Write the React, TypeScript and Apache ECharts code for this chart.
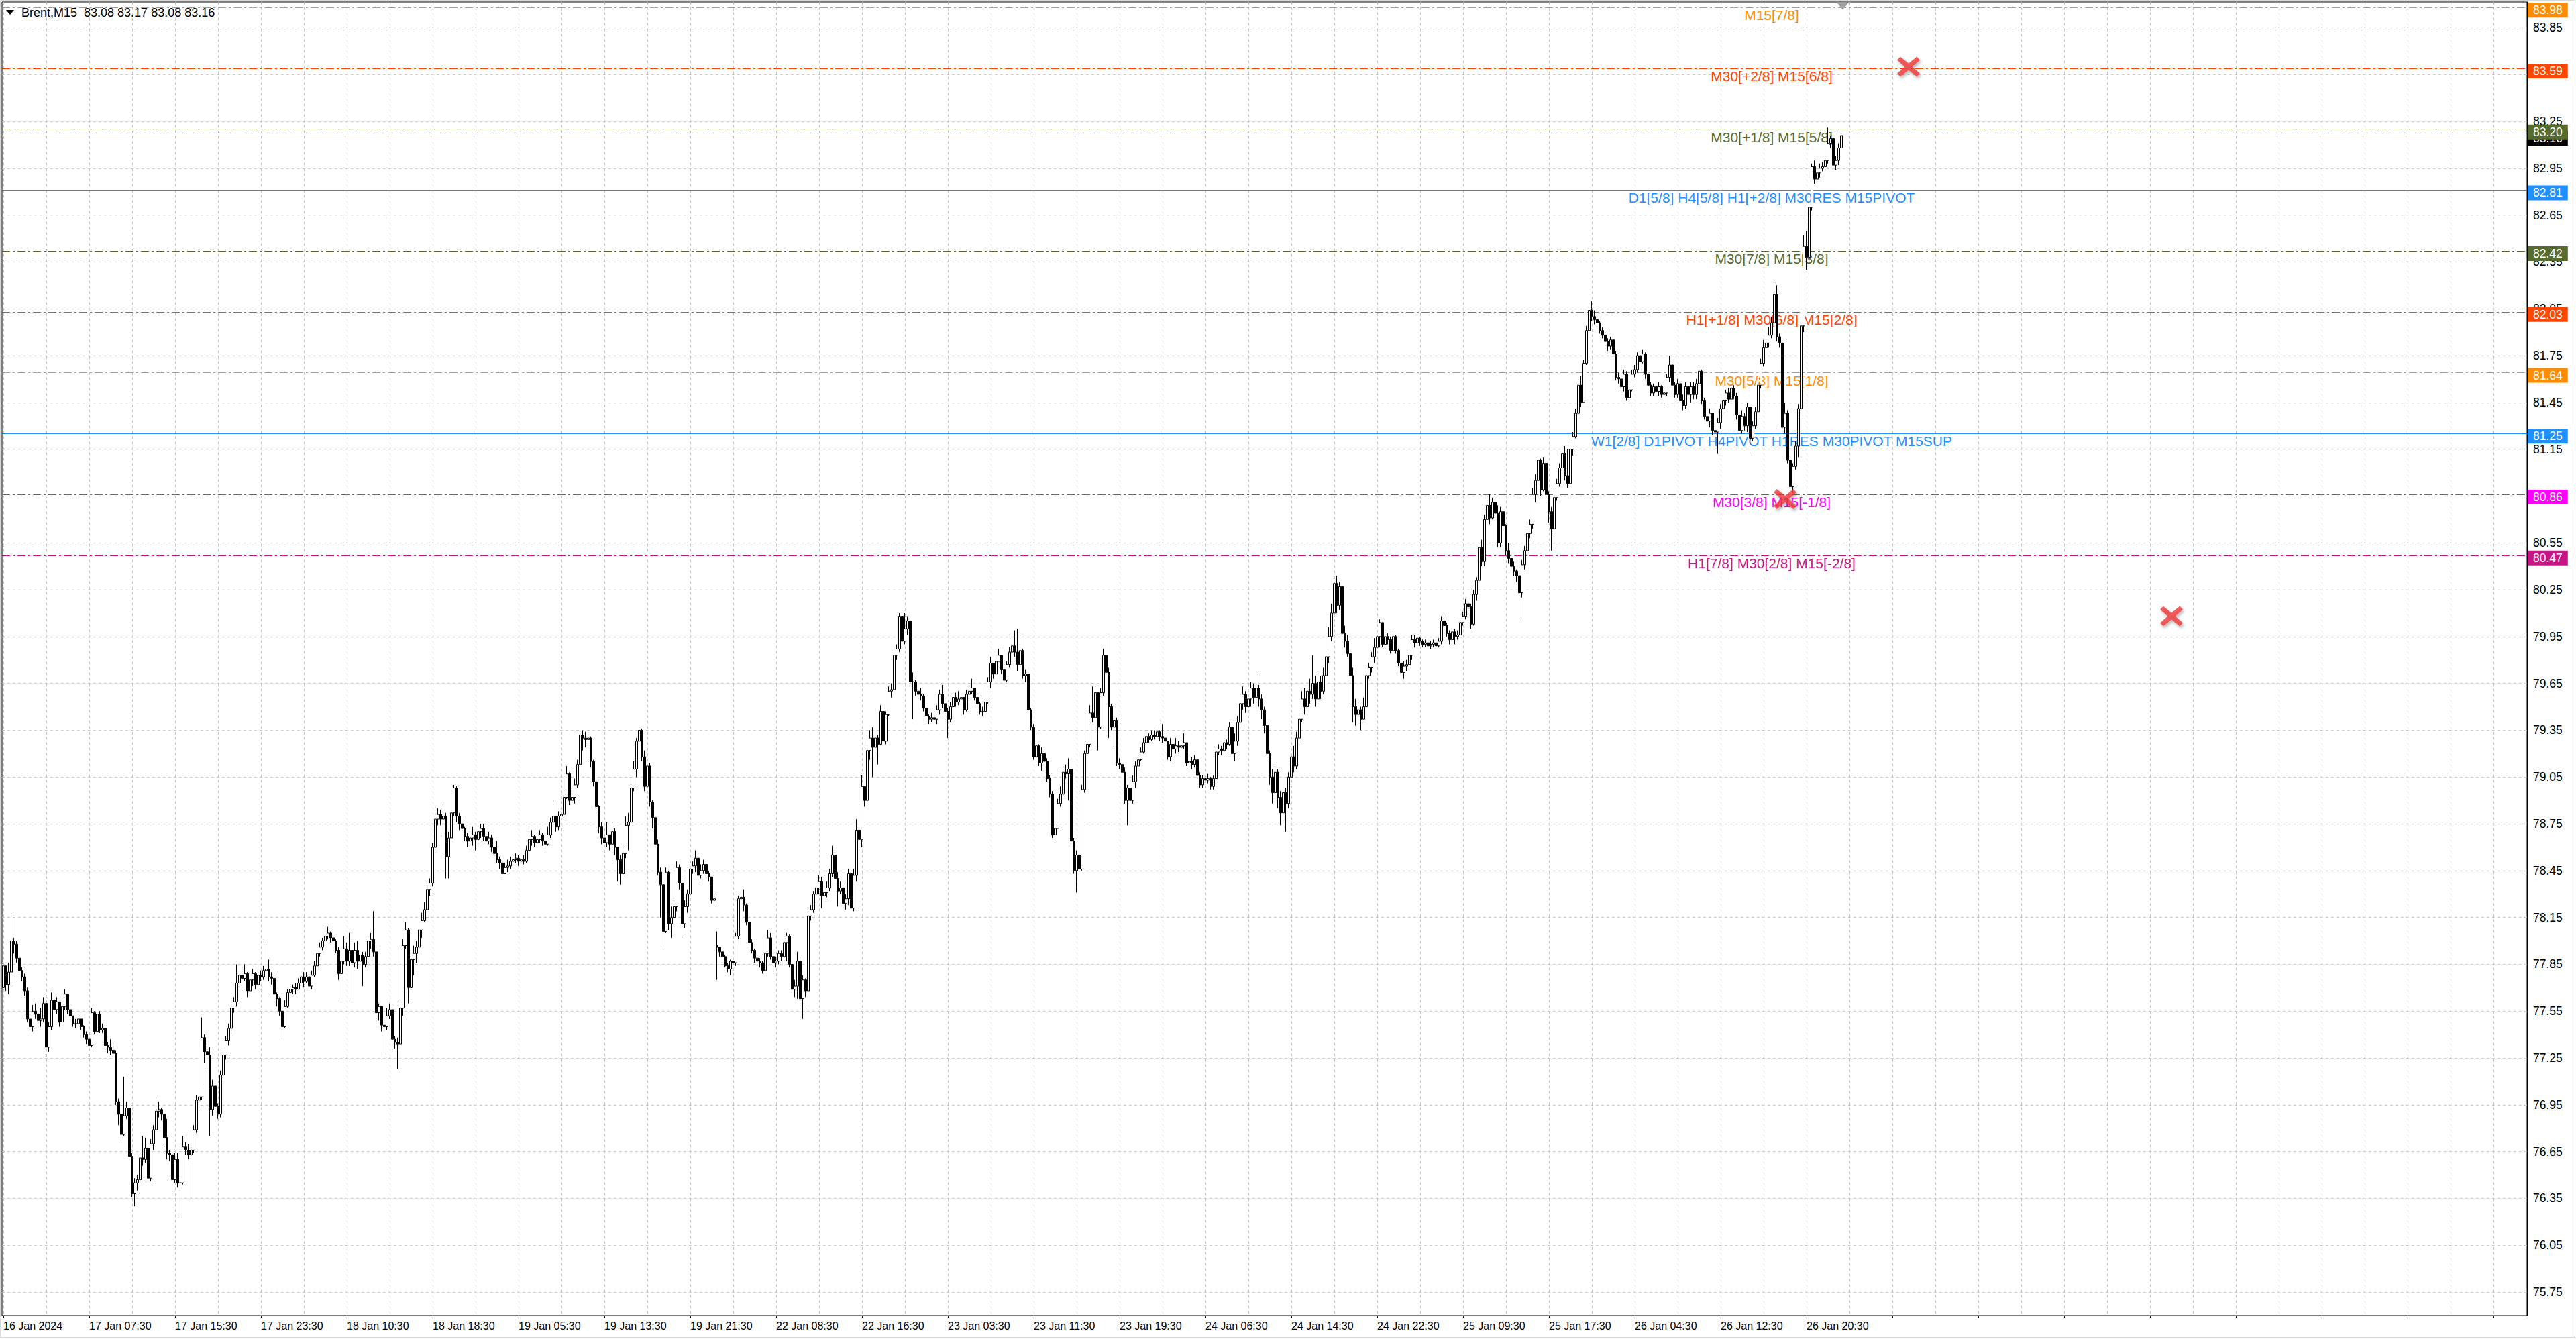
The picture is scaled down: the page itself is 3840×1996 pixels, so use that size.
import React, { useEffect, useRef } from "react";
import * as echarts from "echarts";

// ---------------- DATA ----------------
const symbolName = "Brent,M15";

const xLabels = [
  "16 Jan 2024", "17 Jan 07:30", "17 Jan 15:30", "17 Jan 23:30", "18 Jan 10:30", "18 Jan 18:30",
  "19 Jan 05:30", "19 Jan 13:30", "19 Jan 21:30", "22 Jan 08:30", "22 Jan 16:30", "23 Jan 03:30",
  "23 Jan 11:30", "23 Jan 19:30", "24 Jan 06:30", "24 Jan 14:30", "24 Jan 22:30", "25 Jan 09:30",
  "25 Jan 17:30", "26 Jan 04:30", "26 Jan 12:30", "26 Jan 20:30",
];

const yTicks = [
  75.75, 76.05, 76.35, 76.65, 76.95, 77.25, 77.55, 77.85, 78.15, 78.45, 78.75, 79.05, 79.35, 79.65,
  79.95, 80.25, 80.55, 80.85, 81.15, 81.45, 81.75, 82.05, 82.35, 82.65, 82.95, 83.25, 83.55, 83.85,
];

const firstOpen = 77.7;
const gapOpens = [[266, 77.97]];

const closes = [
  77.84, 77.72, 77.80, 78.00, 77.98, 77.89, 77.81, 77.77, 77.68, 77.50,
  77.45, 77.55, 77.53, 77.49, 77.50, 77.60, 77.32, 77.45, 77.62, 77.56,
  77.61, 77.48, 77.58, 77.66, 77.56, 77.52, 77.47, 77.47, 77.50, 77.45,
  77.40, 77.37, 77.33, 77.54, 77.42, 77.53, 77.43, 77.44, 77.33, 77.32,
  77.30, 77.28, 76.97, 76.89, 76.76, 76.88, 76.93, 76.62, 76.38, 76.45,
  76.47, 76.61, 76.60, 76.67, 76.48, 76.70, 76.79, 76.91, 76.92, 76.89,
  76.74, 76.64, 76.63, 76.47, 76.60, 76.45, 76.45, 76.68, 76.66, 76.63,
  76.66, 76.79, 76.98, 77.00, 77.38, 77.29, 77.27, 76.92, 77.07, 76.94,
  76.89, 77.14, 77.27, 77.36, 77.44, 77.57, 77.61, 77.73, 77.78, 77.76,
  77.79, 77.68, 77.75, 77.79, 77.72, 77.78, 77.77, 77.81, 77.82, 77.77,
  77.76, 77.66, 77.63, 77.55, 77.45, 77.58, 77.67, 77.69, 77.70, 77.69,
  77.73, 77.77, 77.74, 77.77, 77.71, 77.78, 77.84, 77.92, 77.96, 78.00,
  78.03, 78.05, 78.02, 78.00, 77.94, 77.79, 77.87, 77.95, 77.87, 77.94,
  77.86, 77.94, 77.87, 77.91, 77.85, 77.90, 78.00, 78.01, 77.93, 77.54,
  77.58, 77.46, 77.45, 77.52, 77.56, 77.37, 77.35, 77.34, 77.57, 77.97,
  78.07, 77.70, 77.88, 77.92, 77.96, 78.07, 78.13, 78.20, 78.33, 78.37,
  78.60, 78.78, 78.81, 78.78, 78.80, 78.54, 78.66, 78.82, 78.98, 78.80,
  78.75, 78.72, 78.67, 78.64, 78.66, 78.68, 78.65, 78.70, 78.72, 78.67,
  78.64, 78.66, 78.60, 78.56, 78.52, 78.50, 78.43, 78.47, 78.48, 78.51,
  78.52, 78.53, 78.51, 78.52, 78.51, 78.58, 78.65, 78.67, 78.63, 78.65,
  78.68, 78.64, 78.62, 78.68, 78.76, 78.80, 78.73, 78.80, 78.81, 78.92,
  79.07, 78.90, 78.92, 79.00, 79.13, 79.32, 79.30, 79.29, 79.30, 79.15,
  79.02, 78.86, 78.73, 78.66, 78.63, 78.68, 78.62, 78.70, 78.60, 78.52,
  78.43, 78.56, 78.74, 78.76, 78.98, 79.10, 79.28, 79.35, 79.18, 78.99,
  79.12, 78.89, 78.79, 78.62, 78.44, 78.36, 78.06, 78.44, 78.11, 78.15,
  78.22, 78.47, 78.37, 78.11, 78.22, 78.30, 78.46, 78.48, 78.53, 78.42,
  78.45, 78.49, 78.43, 78.41, 78.26, 78.27, 77.96, 77.93, 77.90, 77.84,
  77.82, 77.87, 77.86, 78.03, 78.27, 78.28, 78.23, 78.12, 77.99, 77.94,
  77.89, 77.87, 77.86, 77.81, 77.92, 78.02, 77.90, 77.86, 77.87, 77.92,
  77.90, 77.99, 78.03, 77.85, 77.69, 77.71, 77.87, 77.63, 77.75, 77.68,
  78.16, 78.20, 78.30, 78.34, 78.38, 78.29, 78.31, 78.34, 78.43, 78.55,
  78.40, 78.32, 78.34, 78.24, 78.27, 78.43, 78.21, 78.42, 78.71, 78.65,
  78.99, 78.90, 79.22, 79.30, 79.24, 79.30, 79.26, 79.47, 79.28, 79.45,
  79.60, 79.61, 79.83, 79.87, 80.08, 79.92, 80.00, 80.05, 79.66, 79.66,
  79.60, 79.58, 79.57, 79.49, 79.44, 79.42, 79.43, 79.42, 79.48, 79.58,
  79.52, 79.47, 79.42, 79.50, 79.56, 79.53, 79.55, 79.56, 79.48, 79.58,
  79.60, 79.62, 79.56, 79.52, 79.47, 79.47, 79.53, 79.66, 79.78, 79.71,
  79.79, 79.83, 79.74, 79.67, 79.77, 79.85, 79.89, 79.85, 79.77, 79.86,
  79.70, 79.71, 79.48, 79.37, 79.18, 79.25, 79.14, 79.20, 79.15, 79.04,
  78.94, 78.68, 78.72, 78.88, 78.94, 79.08, 79.07, 79.10, 78.64, 78.45,
  78.55, 78.46, 78.97, 79.20, 79.26, 79.46, 79.43, 79.59, 79.37, 79.59,
  79.83, 79.72, 79.50, 79.37, 79.41, 79.14, 79.13, 79.08, 78.90, 78.98,
  78.90, 79.02, 79.12, 79.16, 79.21, 79.27, 79.31, 79.29, 79.32, 79.31,
  79.34, 79.31, 79.30, 79.28, 79.18, 79.26, 79.23, 79.25, 79.24, 79.25,
  79.27, 79.14, 79.15, 79.13, 79.16, 79.06, 79.00, 79.04, 79.03, 79.04,
  78.99, 79.04, 79.21, 79.23, 79.22, 79.27, 79.26, 79.37, 79.20, 79.28,
  79.40, 79.52, 79.58, 79.50, 79.55, 79.62, 79.56, 79.62, 79.55, 79.48,
  79.38, 79.20, 79.05, 78.95, 79.08, 78.92, 78.82, 78.95, 78.88, 79.05,
  79.18, 79.12, 79.30, 79.42, 79.55, 79.50, 79.60, 79.58, 79.65, 79.55,
  79.66, 79.60, 79.70, 79.82, 79.95, 80.10, 80.29, 80.15, 80.27, 79.97,
  79.92, 79.84, 79.70, 79.50, 79.45, 79.48, 79.42, 79.50, 79.70, 79.75,
  79.82, 79.88, 79.95, 80.04, 79.90, 79.95, 79.93, 79.86, 79.95, 79.86,
  79.78, 79.72, 79.76, 79.77, 79.83, 79.93, 79.91, 79.94, 79.92, 79.90,
  79.91, 79.89, 79.90, 79.91, 79.89, 79.92, 80.05, 80.02, 79.97, 79.93,
  79.98, 79.95, 79.96, 80.04, 80.08, 80.16, 80.14, 80.03, 80.22, 80.31,
  80.52, 80.43, 80.70, 80.79, 80.71, 80.81, 80.74, 80.55, 80.75, 80.66,
  80.50, 80.45, 80.40, 80.37, 80.34, 80.23, 80.41, 80.50, 80.61, 80.67,
  80.86, 80.95, 81.08, 80.89, 81.06, 80.86, 80.75, 80.64, 80.84, 80.93,
  81.03, 81.12, 80.98, 80.93, 81.15, 81.23, 81.38, 81.56, 81.45, 81.70,
  81.91, 82.04, 82.00, 81.98, 81.96, 81.91, 81.88, 81.84, 81.81, 81.85,
  81.76, 81.61, 81.60, 81.55, 81.63, 81.48, 81.53, 81.63, 81.66, 81.75,
  81.71, 81.76, 81.63, 81.56, 81.51, 81.55, 81.52, 81.55, 81.50, 81.51,
  81.61, 81.69, 81.56, 81.50, 81.57, 81.46, 81.43, 81.55, 81.50, 81.55,
  81.50, 81.57, 81.65, 81.46, 81.36, 81.33, 81.38, 81.27, 81.26, 81.32,
  81.41, 81.46, 81.51, 81.47, 81.54, 81.49, 81.37, 81.27, 81.36, 81.30,
  81.42, 81.22, 81.30, 81.39, 81.56, 81.70, 81.80, 81.83, 81.88, 81.96,
  82.14, 81.87, 81.83, 81.29, 81.38, 81.08, 80.91, 81.04, 81.17, 81.41,
  81.94, 82.45, 82.38, 82.70, 82.96, 82.88, 82.92, 82.95, 82.96, 83.00,
  83.11, 83.14, 82.97, 83.00, 83.08, 83.16,
];

const highs = [
  77.87, 77.80, 77.86, 78.18, 78.02, 78.00, 77.90, 77.83, 77.79, 77.70,
  77.52, 77.59, 77.60, 77.56, 77.57, 77.64, 77.64, 77.48, 77.67, 77.63,
  77.64, 77.60, 77.62, 77.69, 77.66, 77.58, 77.52, 77.50, 77.52, 77.50,
  77.46, 77.42, 77.38, 77.57, 77.55, 77.55, 77.55, 77.47, 77.45, 77.35,
  77.37, 77.33, 77.30, 76.99, 76.90, 77.13, 76.97, 76.95, 76.64, 76.48,
  76.50, 76.64, 76.75, 76.74, 76.68, 76.73, 76.82, 77.00, 76.97, 76.93,
  76.88, 76.86, 76.66, 76.66, 76.64, 76.64, 76.48, 76.75, 76.71, 76.70,
  76.70, 76.82, 77.01, 77.05, 77.51, 77.40, 77.33, 77.32, 77.11, 77.09,
  76.96, 77.17, 77.30, 77.39, 77.47, 77.60, 77.64, 77.85, 77.84, 77.83,
  77.85, 77.80, 77.79, 77.82, 77.80, 77.80, 77.81, 77.84, 77.98, 77.88,
  77.80, 77.78, 77.67, 77.64, 77.56, 77.62, 77.69, 77.71, 77.72, 77.73,
  77.76, 77.80, 77.80, 77.80, 77.78, 77.81, 77.87, 77.95, 77.99, 78.02,
  78.10, 78.09, 78.06, 78.03, 78.01, 77.96, 77.90, 78.03, 77.99, 78.05,
  78.00, 77.99, 78.00, 77.94, 77.93, 77.93, 78.03, 78.05, 78.19, 77.95,
  77.60, 77.58, 77.49, 77.57, 77.60, 77.58, 77.39, 77.38, 77.62, 78.01,
  78.12, 78.08, 77.92, 77.97, 78.00, 78.12, 78.18, 78.25, 78.36, 78.40,
  78.63, 78.81, 78.85, 78.84, 78.89, 78.82, 78.70, 78.95, 79.00, 78.99,
  78.82, 78.79, 78.73, 78.69, 78.70, 78.73, 78.70, 78.73, 78.75, 78.75,
  78.70, 78.70, 78.68, 78.62, 78.64, 78.54, 78.51, 78.50, 78.52, 78.54,
  78.55, 78.56, 78.55, 78.54, 78.55, 78.61, 78.70, 78.71, 78.68, 78.68,
  78.71, 78.69, 78.66, 78.73, 78.79, 78.90, 78.80, 78.83, 78.85, 78.97,
  79.12, 79.08, 78.95, 79.04, 79.16, 79.35, 79.35, 79.34, 79.34, 79.31,
  79.16, 79.03, 78.87, 78.76, 78.70, 78.76, 78.67, 78.76, 78.72, 78.60,
  78.55, 78.60, 78.80, 78.82, 79.05, 79.15, 79.30, 79.37, 79.36, 79.22,
  79.15, 79.14, 78.90, 78.80, 78.65, 78.47, 78.38, 78.47, 78.45, 78.22,
  78.26, 78.51, 78.49, 78.40, 78.26, 78.33, 78.52, 78.51, 78.58, 78.52,
  78.49, 78.52, 78.50, 78.45, 78.30, 78.30, 78.06, 77.96, 77.94, 77.91,
  77.86, 77.88, 77.89, 78.05, 78.29, 78.35, 78.33, 78.24, 78.12, 78.01,
  77.95, 77.90, 77.89, 77.87, 77.94, 78.07, 78.05, 77.92, 77.90, 77.94,
  77.94, 78.02, 78.05, 78.04, 77.86, 77.75, 77.93, 77.88, 77.78, 77.76,
  78.20, 78.23, 78.32, 78.40, 78.42, 78.41, 78.42, 78.38, 78.46, 78.61,
  78.57, 78.44, 78.38, 78.36, 78.30, 78.46, 78.44, 78.46, 78.78, 78.72,
  79.06, 78.99, 79.25, 79.35, 79.37, 79.34, 79.32, 79.51, 79.48, 79.47,
  79.63, 79.65, 79.85, 79.90, 80.10, 80.12, 80.10, 80.08, 80.06, 79.72,
  79.67, 79.62, 79.62, 79.58, 79.50, 79.45, 79.46, 79.45, 79.51, 79.61,
  79.64, 79.54, 79.49, 79.53, 79.58, 79.59, 79.60, 79.58, 79.55, 79.61,
  79.63, 79.68, 79.62, 79.57, 79.53, 79.50, 79.55, 79.69, 79.82, 79.78,
  79.84, 79.87, 79.83, 79.73, 79.79, 79.88, 79.94, 79.99, 80.00, 79.96,
  79.87, 79.74, 79.72, 79.49, 79.39, 79.33, 79.26, 79.24, 79.23, 79.17,
  79.06, 78.96, 78.76, 78.91, 78.99, 79.12, 79.13, 79.17, 79.10, 78.66,
  78.58, 78.56, 79.00, 79.22, 79.28, 79.51, 79.63, 79.63, 79.59, 79.62,
  79.87, 79.96, 79.75, 79.52, 79.44, 79.43, 79.17, 79.14, 79.11, 79.00,
  78.99, 79.06, 79.15, 79.22, 79.24, 79.30, 79.33, 79.33, 79.35, 79.35,
  79.36, 79.35, 79.39, 79.32, 79.27, 79.30, 79.32, 79.30, 79.28, 79.29,
  79.33, 79.27, 79.20, 79.18, 79.19, 79.16, 79.08, 79.06, 79.06, 79.07,
  79.05, 79.06, 79.24, 79.26, 79.25, 79.30, 79.29, 79.40, 79.39, 79.33,
  79.44, 79.58, 79.63, 79.60, 79.60, 79.66, 79.65, 79.70, 79.64, 79.58,
  79.50, 79.40, 79.22, 79.10, 79.12, 79.10, 78.96, 78.98, 78.98, 79.08,
  79.22, 79.25, 79.34, 79.48, 79.60, 79.62, 79.66, 79.68, 79.83, 79.70,
  79.72, 79.70, 79.75, 79.86, 80.01, 80.16, 80.34, 80.34, 80.30, 80.20,
  80.02, 79.96, 79.93, 79.75, 79.55, 79.53, 79.50, 79.56, 79.73, 79.78,
  79.85, 79.94, 79.99, 80.06, 80.03, 79.98, 79.97, 79.95, 80.00, 79.96,
  79.87, 79.80, 79.79, 79.80, 79.85, 79.96, 79.96, 79.97, 79.95, 79.93,
  79.93, 79.92, 79.92, 79.93, 79.92, 79.94, 80.08, 80.08, 80.04, 79.99,
  80.00, 80.00, 79.99, 80.06, 80.11, 80.19, 80.17, 80.16, 80.25, 80.33,
  80.55, 80.57, 80.73, 80.81, 80.86, 80.84, 80.83, 80.79, 80.78, 80.74,
  80.67, 80.55, 80.48, 80.43, 80.38, 80.36, 80.44, 80.53, 80.64, 80.70,
  80.90, 80.99, 81.10, 81.09, 81.10, 81.03, 80.88, 80.78, 80.87, 80.96,
  81.06, 81.15, 81.17, 81.15, 81.18, 81.26, 81.41, 81.60, 81.62, 81.72,
  81.94, 82.06, 82.10, 82.04, 82.00, 81.97, 81.93, 81.90, 81.86, 81.87,
  81.84, 81.78, 81.64, 81.62, 81.66, 81.65, 81.57, 81.66, 81.69, 81.77,
  81.78, 81.79, 81.77, 81.64, 81.58, 81.57, 81.56, 81.58, 81.56, 81.54,
  81.63, 81.75, 81.70, 81.58, 81.60, 81.58, 81.50, 81.58, 81.57, 81.58,
  81.58, 81.60, 81.68, 81.66, 81.48, 81.39, 81.41, 81.36, 81.30, 81.35,
  81.44, 81.49, 81.53, 81.54, 81.56, 81.56, 81.51, 81.39, 81.40, 81.38,
  81.45, 81.42, 81.33, 81.42, 81.59, 81.73, 81.85, 81.88, 81.93, 82.00,
  82.21, 82.20, 81.89, 81.85, 81.45, 81.40, 81.10, 81.06, 81.20, 81.44,
  81.97, 82.52, 82.55, 82.73, 82.98, 83.00, 82.97, 82.98, 82.99, 83.02,
  83.21, 83.16, 83.14, 83.03, 83.11, 83.17,
];

const lows = [
  77.58, 77.68, 77.66, 77.72, 77.92, 77.86, 77.78, 77.74, 77.65, 77.48,
  77.40, 77.42, 77.50, 77.44, 77.45, 77.48, 77.28, 77.29, 77.43, 77.53,
  77.53, 77.45, 77.46, 77.56, 77.53, 77.50, 77.45, 77.44, 77.46, 77.43,
  77.38, 77.34, 77.28, 77.32, 77.40, 77.41, 77.41, 77.41, 77.30, 77.28,
  77.27, 77.22, 76.95, 76.82, 76.72, 76.75, 76.86, 76.60, 76.36, 76.30,
  76.40, 76.45, 76.56, 76.58, 76.45, 76.46, 76.66, 76.78, 76.87, 76.85,
  76.70, 76.60, 76.59, 76.39, 76.45, 76.42, 76.24, 76.44, 76.63, 76.60,
  76.35, 76.64, 76.77, 76.93, 76.98, 77.22, 77.18, 76.75, 76.88, 76.91,
  76.86, 76.87, 77.11, 77.24, 77.33, 77.42, 77.54, 77.58, 77.70, 77.68,
  77.74, 77.64, 77.66, 77.71, 77.69, 77.68, 77.74, 77.75, 77.79, 77.74,
  77.72, 77.64, 77.58, 77.52, 77.39, 77.44, 77.57, 77.65, 77.66, 77.66,
  77.70, 77.72, 77.70, 77.73, 77.68, 77.69, 77.77, 77.83, 77.90, 77.94,
  77.99, 78.01, 77.99, 77.97, 77.92, 77.75, 77.60, 77.85, 77.84, 77.84,
  77.60, 77.83, 77.82, 77.84, 77.71, 77.83, 77.88, 77.95, 77.90, 77.50,
  77.49, 77.42, 77.28, 77.43, 77.50, 77.34, 77.31, 77.18, 77.31, 77.52,
  77.95, 77.60, 77.62, 77.78, 77.86, 77.93, 78.02, 78.12, 78.17, 78.29,
  78.35, 78.58, 78.74, 78.74, 78.67, 78.40, 78.40, 78.63, 78.80, 78.76,
  78.71, 78.68, 78.64, 78.60, 78.58, 78.61, 78.58, 78.62, 78.66, 78.64,
  78.60, 78.62, 78.57, 78.52, 78.50, 78.46, 78.40, 78.44, 78.44, 78.46,
  78.50, 78.50, 78.48, 78.49, 78.49, 78.50, 78.57, 78.61, 78.60, 78.61,
  78.63, 78.61, 78.59, 78.61, 78.66, 78.74, 78.70, 78.71, 78.77, 78.79,
  78.91, 78.87, 78.88, 78.88, 78.98, 79.07, 79.22, 79.24, 79.26, 79.11,
  78.99, 78.83, 78.69, 78.62, 78.57, 78.60, 78.58, 78.58, 78.55, 78.38,
  78.36, 78.42, 78.53, 78.58, 78.74, 78.96, 79.05, 79.18, 79.15, 78.96,
  78.95, 78.86, 78.72, 78.60, 78.42, 78.15, 77.96, 78.05, 78.07, 78.02,
  78.10, 78.19, 78.33, 78.02, 78.08, 78.18, 78.27, 78.43, 78.44, 78.38,
  78.40, 78.43, 78.40, 78.38, 78.24, 78.22, 77.75, 77.90, 77.87, 77.83,
  77.80, 77.78, 77.83, 77.84, 78.01, 78.24, 78.19, 78.10, 77.97, 77.92,
  77.86, 77.84, 77.83, 77.79, 77.80, 77.90, 77.88, 77.80, 77.83, 77.85,
  77.87, 77.89, 77.87, 77.83, 77.67, 77.64, 77.63, 77.58, 77.50, 77.64,
  77.58, 78.13, 78.18, 78.25, 78.30, 78.21, 78.28, 78.28, 78.32, 78.41,
  78.38, 78.22, 78.30, 78.22, 78.20, 78.23, 78.20, 78.19, 78.38, 78.58,
  78.60, 78.86, 78.87, 79.16, 79.05, 79.20, 79.13, 79.26, 79.25, 79.26,
  79.44, 79.56, 79.62, 79.80, 79.85, 79.88, 79.90, 79.96, 79.63, 79.42,
  79.57, 79.55, 79.54, 79.47, 79.40, 79.39, 79.40, 79.40, 79.39, 79.45,
  79.49, 79.44, 79.30, 79.40, 79.43, 79.50, 79.51, 79.53, 79.45, 79.47,
  79.55, 79.58, 79.54, 79.49, 79.45, 79.44, 79.47, 79.52, 79.62, 79.68,
  79.73, 79.79, 79.71, 79.65, 79.66, 79.75, 79.84, 79.82, 79.73, 79.75,
  79.68, 79.66, 79.46, 79.35, 79.16, 79.12, 79.12, 79.09, 79.10, 79.02,
  78.92, 78.66, 78.64, 78.72, 78.86, 78.93, 79.04, 78.90, 78.62, 78.43,
  78.31, 78.44, 78.45, 78.95, 79.18, 79.24, 79.40, 79.38, 79.22, 79.36,
  79.57, 79.70, 79.30, 79.35, 79.23, 79.12, 79.10, 78.96, 78.88, 78.74,
  78.88, 78.88, 78.98, 79.10, 79.15, 79.20, 79.24, 79.27, 79.28, 79.29,
  79.29, 79.28, 79.27, 79.20, 79.16, 79.15, 79.13, 79.20, 79.21, 79.22,
  79.23, 79.12, 79.10, 79.10, 79.11, 79.04, 78.98, 78.98, 79.00, 79.01,
  78.97, 78.97, 79.02, 79.19, 79.19, 79.21, 79.23, 79.25, 79.18, 79.15,
  79.25, 79.38, 79.48, 79.46, 79.45, 79.50, 79.52, 79.54, 79.50, 79.42,
  79.33, 79.15, 79.00, 78.88, 78.92, 78.85, 78.74, 78.78, 78.70, 78.85,
  79.00, 79.08, 79.10, 79.28, 79.40, 79.45, 79.47, 79.52, 79.55, 79.50,
  79.52, 79.55, 79.58, 79.66, 79.78, 79.92, 80.05, 80.10, 80.12, 79.95,
  79.88, 79.82, 79.68, 79.40, 79.38, 79.40, 79.35, 79.42, 79.50, 79.68,
  79.72, 79.78, 79.87, 79.88, 79.88, 79.89, 79.90, 79.84, 79.84, 79.84,
  79.76, 79.70, 79.68, 79.73, 79.74, 79.80, 79.88, 79.89, 79.89, 79.88,
  79.88, 79.87, 79.87, 79.88, 79.87, 79.88, 79.90, 79.99, 79.95, 79.90,
  79.90, 79.90, 79.93, 79.95, 80.02, 80.06, 80.05, 80.00, 80.02, 80.18,
  80.28, 80.40, 80.40, 80.69, 80.67, 80.70, 80.70, 80.52, 80.52, 80.63,
  80.47, 80.42, 80.37, 80.34, 80.30, 80.06, 80.20, 80.38, 80.48, 80.58,
  80.64, 80.81, 80.92, 80.85, 80.88, 80.82, 80.68, 80.50, 80.62, 80.82,
  80.91, 81.00, 80.95, 80.90, 80.91, 81.11, 81.22, 81.36, 81.42, 81.45,
  81.69, 81.90, 81.97, 81.95, 81.94, 81.89, 81.86, 81.82, 81.78, 81.79,
  81.74, 81.59, 81.57, 81.51, 81.52, 81.46, 81.46, 81.52, 81.61, 81.64,
  81.68, 81.70, 81.60, 81.53, 81.49, 81.49, 81.50, 81.49, 81.48, 81.44,
  81.49, 81.58, 81.54, 81.48, 81.48, 81.42, 81.40, 81.41, 81.47, 81.45,
  81.47, 81.47, 81.54, 81.44, 81.34, 81.30, 81.29, 81.24, 81.20, 81.12,
  81.28, 81.38, 81.43, 81.45, 81.46, 81.47, 81.34, 81.24, 81.25, 81.27,
  81.26, 81.12, 81.20, 81.28, 81.36, 81.54, 81.68, 81.77, 81.80, 81.86,
  81.94, 81.84, 81.80, 81.25, 81.25, 81.06, 80.88, 80.87, 81.02, 81.10,
  81.36, 81.90, 82.30, 82.35, 82.68, 82.85, 82.87, 82.89, 82.93, 82.94,
  82.98, 83.08, 82.95, 82.94, 82.97, 83.08,
];

const levelPrices = [83.98, 83.59, 83.2, 82.81, 82.42, 82.03, 81.64, 81.25, 80.86, 80.47];
const levelTexts = [
  "M15[7/8]",
  "M30[+2/8] M15[6/8]",
  "M30[+1/8] M15[5/8]",
  "D1[5/8] H4[5/8] H1[+2/8] M30RES M15PIVOT",
  "M30[7/8] M15[3/8]",
  "H1[+1/8] M30[6/8] M15[2/8]",
  "M30[5/8] M15[1/8]",
  "W1[2/8] D1PIVOT H4PIVOT H1RES M30PIVOT M15SUP",
  "M30[3/8] M15[-1/8]",
  "H1[7/8] M30[2/8] M15[-2/8]",
];
const bidPrice = 83.16;

const crossBars = [710, 808, 664];
const crossPrices = [83.6, 80.08, 80.83];

// ---------------- STYLE / LAYOUT ----------------
const levelColors = ["#FF8C00", "#FF4500", "#556B2F", "#1E90FF", "#556B2F", "#FF4500", "#FF8C00", "#1E90FF", "#FF00FF", "#C71585"];
const levelSolid = [false, false, false, true, false, false, false, true, false, false];

const W = 3840;
const H = 1996;
const SLOTS = 941;
const Y_MIN = 75.6;
const Y_MAX = 84.015;
const LABEL_IDX = 659;
const FONT = "'Liberation Sans', Arial, sans-serif";
const DASHDOT = [12, 4, 3, 4];
const GRID_DASH = [4, 4];

function buildOption() {
  const candles = closes.map((c, i) => {
    let o = i === 0 ? firstOpen : closes[i - 1];
    const g = gapOpens.find((x) => x[0] === i);
    if (g) o = g[1];
    const h = Math.max(highs[i], o, c);
    const l = Math.min(lows[i], o, c);
    return [o, c, l, h];
  });
  const last = candles[candles.length - 1];
  const headerText = `${symbolName}  ${last[0].toFixed(2)} ${last[3].toFixed(2)} ${last[2].toFixed(2)} ${last[1].toFixed(2)}`;

  const tagLabel = {
    show: true,
    position: "end",
    distance: 1,
    offset: [0, 4],
    color: "#fff",
    padding: [3, 8, 2, 8],
    lineHeight: 17,
    fontFamily: FONT,
    fontSize: 17.5,
    formatter: (p: any) => Number(p.value).toFixed(2),
  };

  return {
    animation: false,
    backgroundColor: "#ffffff",
    textStyle: { fontFamily: FONT },
    grid: { left: 3, top: 3, width: 3764, height: 1958, show: true, borderColor: "#000", borderWidth: 1, backgroundColor: "#fff" },
    xAxis: {
      type: "category",
      data: Array.from({ length: SLOTS }, (_, i) => String(i)),
      boundaryGap: true,
      axisLine: { show: true, lineStyle: { color: "#000", width: 1 } },
      axisTick: { show: true, interval: 31, alignWithLabel: true, length: 4, lineStyle: { color: "#000" } },
      axisLabel: {
        show: true,
        interval: 31,
        align: "left",
        margin: 7,
        color: "#000",
        fontFamily: FONT,
        fontSize: 16,
        formatter: (_v: string, idx: number) => (idx % 32 === 0 && xLabels[idx / 32]) || "",
      },
      splitLine: { show: true, interval: 15, alignWithLabel: true, lineStyle: { color: "#c8c8c8", type: GRID_DASH, width: 1 } },
    },
    yAxis: {
      type: "value",
      position: "right",
      min: Y_MIN,
      max: Y_MAX,
      scale: true,
      axisLine: { show: true, onZero: false, lineStyle: { color: "#000", width: 1 } },
      axisTick: { show: false },
      axisLabel: { show: false },
      splitLine: { show: false },
    },
    graphic: [
      { type: "rect", shape: { x: 0.5, y: 0.5, width: 3838, height: 1993 }, style: { fill: "none", stroke: "#d8d8d8", lineWidth: 1 }, silent: true, z: 0 },
      { type: "polygon", shape: { points: [[9, 15], [21, 15], [15, 22]] }, style: { fill: "#000" }, z: 20 },
      { type: "text", x: 32, y: 19, style: { text: headerText, fill: "#000", font: `18px ${FONT}`, textVerticalAlign: "middle" }, z: 20 },
    ],
    series: [
      {
        name: "grid",
        type: "line",
        data: [],
        silent: true,
        z: 1,
        markLine: {
          silent: true,
          animation: false,
          symbol: ["none", "none"],
          z: 1,
          lineStyle: { color: "#c8c8c8", type: GRID_DASH, width: 1 },
          label: {
            show: true,
            position: "end",
            distance: 9,
            color: "#000",
            fontFamily: FONT,
            fontSize: 17.5,
            formatter: (p: any) => Number(p.value).toFixed(2),
          },
          emphasis: { disabled: true },
          data: yTicks.map((v) => ({ yAxis: v })),
        },
      },
      {
        name: "bid",
        type: "line",
        data: [],
        silent: true,
        z: 2,
        markLine: {
          silent: true,
          animation: false,
          symbol: ["none", "none"],
          z: 2,
          lineStyle: { color: "#c0c0c0", type: "solid", width: 1 },
          label: { ...tagLabel, backgroundColor: "#000" },
          emphasis: { disabled: true },
          data: [{ yAxis: bidPrice }],
        },
      },
      {
        name: "levels",
        type: "line",
        data: [],
        silent: true,
        z: 3,
        markLine: {
          silent: true,
          animation: false,
          symbol: ["none", "none"],
          z: 3,
          label: tagLabel,
          emphasis: { disabled: true },
          data: levelPrices.map((p, i) => ({
            yAxis: p,
            lineStyle: { color: levelColors[i], type: levelSolid[i] ? "solid" : DASHDOT, width: 1 },
            label: { backgroundColor: levelColors[i] },
          })),
        },
        markPoint: {
          silent: true,
          animation: false,
          z: 3,
          symbol: "rect",
          symbolSize: 0,
          data: levelPrices.map((p, i) => ({
            coord: [LABEL_IDX, p],
            label: {
              show: true,
              position: "bottom",
              distance: 1,
              color: levelColors[i],
              fontFamily: FONT,
              fontSize: 21,
              formatter: levelTexts[i],
            },
          })),
        },
      },
      {
        name: symbolName,
        type: "candlestick",
        data: candles,
        z: 4,
        barWidth: 3,
        large: false,
        silent: true,
        itemStyle: { color: "#ffffff", color0: "#000000", borderColor: "#000000", borderColor0: "#000000", borderWidth: 1 },
        markPoint: {
          silent: true,
          animation: false,
          data: [
            {
              coord: [candles.length - 1, Y_MAX],
              symbol: "triangle",
              symbolRotate: 180,
              symbolSize: [18, 11],
              symbolOffset: [2, 6],
              itemStyle: { color: "#a0a0a0" },
              label: { show: false },
            },
          ],
        },
      },
      {
        name: "cross",
        type: "scatter",
        z: 6,
        silent: true,
        data: crossBars.map((b, i) => [b, crossPrices[i]]),
        symbol: "path://M0,5 L5,0 L18,10 L31,0 L36,5 L24,15 L36,25 L31,30 L18,20 L5,30 L0,25 L12,15 Z",
        symbolSize: [34, 30],
        itemStyle: { color: "#ee3838", shadowBlur: 4, shadowColor: "rgba(0,0,0,0.35)", shadowOffsetX: 2, shadowOffsetY: 3 },
      },
    ],
  };
}

export default function App() {
  const ref = useRef<HTMLDivElement>(null);
  useEffect(() => {
    const el = ref.current;
    if (!el) return;
    const chart = echarts.init(el, null, { renderer: "svg", width: W, height: H });
    chart.setOption(buildOption() as any);
    return () => chart.dispose();
  }, []);
  return (
    <div
      ref={ref}
      style={{ position: "fixed", left: 0, top: 0, width: W, height: H, background: "#fff" }}
    />
  );
}
